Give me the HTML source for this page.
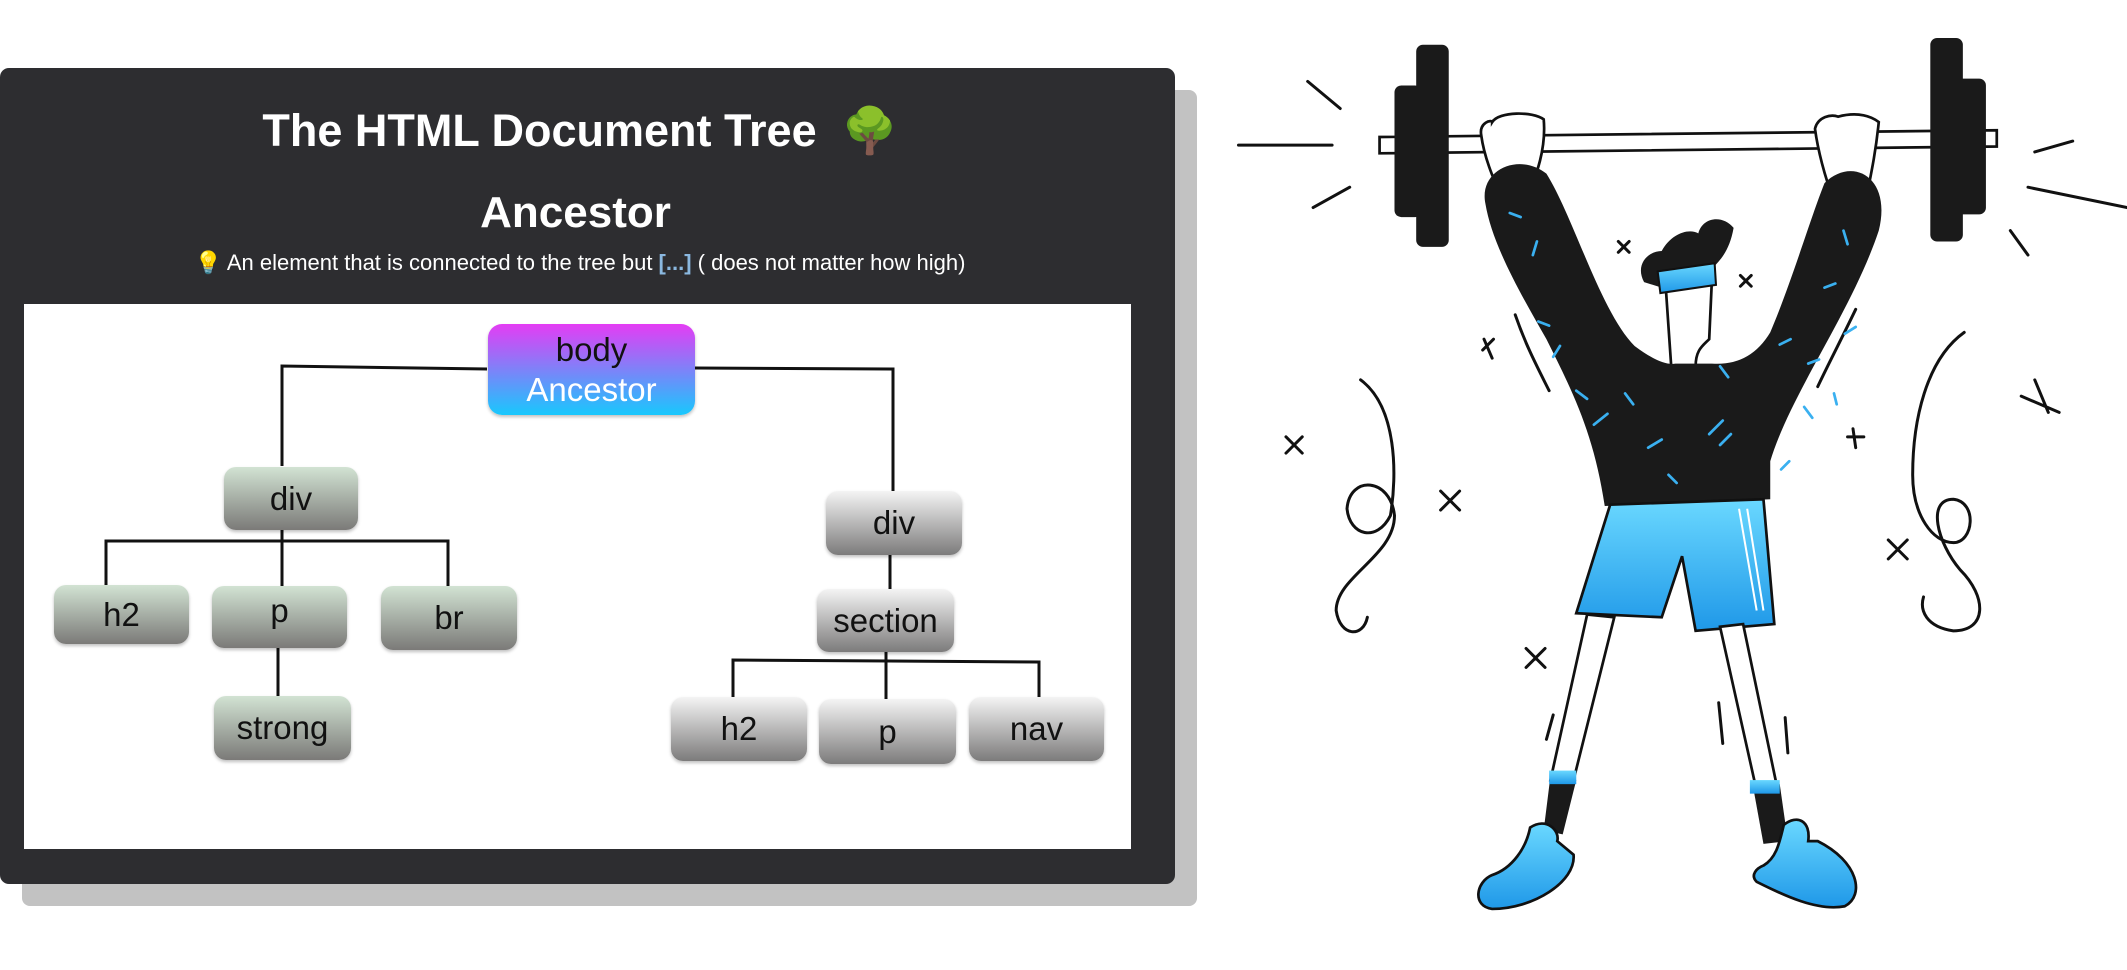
<!DOCTYPE html>
<html><head><meta charset="utf-8"><style>
html,body{margin:0;padding:0;background:#fff;width:2127px;height:970px;overflow:hidden;position:relative;font-family:"Liberation Sans",Arial,sans-serif}
.shadow{position:absolute;left:22px;top:90px;width:1175px;height:816px;background:#c2c2c2;border-radius:8px}
.panel{position:absolute;left:0;top:68px;width:1175px;height:816px;background:#2d2d30;border-radius:9px}
.t1{position:absolute;left:0;width:1160px;top:104px;text-align:center;color:#fff;font-weight:bold;font-size:45px}
.t2{position:absolute;left:0;width:1151px;top:188px;text-align:center;color:#fff;font-weight:bold;font-size:44px}
.t3{position:absolute;left:0;width:1160px;top:250px;text-align:center;color:#fff;font-size:22px}
.t3 b{color:#8ab8e0}
.white{position:absolute;left:24px;top:304px;width:1107px;height:545px;background:#fff}
.n{position:absolute;border-radius:12px;display:flex;align-items:center;justify-content:center;font-size:33px;color:#111;box-shadow:0 2px 3px rgba(0,0,0,.25)}
.g{background:linear-gradient(#d2e3d3,#7b7a78)}
.r{background:linear-gradient(#f4f4f4,#7c7b7b)}
.body{background:linear-gradient(#e43cf4,#18c8fd);flex-direction:column;line-height:40px;border-radius:14px}
</style></head><body>
<div class="shadow"></div>
<div class="panel"></div>
<div class="t1">The HTML Document Tree&nbsp; <span style="color:#3d8e20">🌳</span></div>
<div class="t2">Ancestor</div>
<div class="t3">💡 An element that is connected to the tree but <b>[...]</b> ( does not matter how high)</div>
<div class="white"></div>
<svg style="position:absolute;left:0;top:0" width="2127" height="970">
<g stroke="#111" stroke-width="3" fill="none">
<polyline points="487,369 282,366 282,466"/>
<polyline points="695,368 893,369 893,491"/>
<polyline points="106,585 106,541 448,541 448,586"/>
<line x1="282" y1="530" x2="282" y2="586"/>
<line x1="278" y1="648" x2="278" y2="696"/>
<line x1="890" y1="555" x2="890" y2="589"/>
<polyline points="733,697 733,660 1039,662 1039,697"/>
<line x1="886" y1="652" x2="886" y2="699"/>
</g></svg>
<div class="n body" style="left:488px;top:324px;width:207px;height:91px"><span>body</span><span style="color:#fff">Ancestor</span></div>
<div class="n g" style="left:224px;top:467px;width:134px;height:63px">div</div>
<div class="n g" style="left:54px;top:585px;width:135px;height:59px">h2</div>
<div class="n g" style="left:212px;top:586px;width:135px;height:62px;padding-bottom:12px;box-sizing:border-box">p</div>
<div class="n g" style="left:381px;top:586px;width:136px;height:64px">br</div>
<div class="n g" style="left:214px;top:696px;width:137px;height:64px">strong</div>
<div class="n r" style="left:826px;top:491px;width:136px;height:64px">div</div>
<div class="n r" style="left:817px;top:589px;width:137px;height:63px">section</div>
<div class="n r" style="left:671px;top:697px;width:136px;height:64px">h2</div>
<div class="n r" style="left:819px;top:699px;width:137px;height:65px">p</div>
<div class="n r" style="left:969px;top:697px;width:135px;height:64px">nav</div>

<svg style="position:absolute;left:0;top:0" width="2127" height="970" viewBox="0 0 1568 715" preserveAspectRatio="none">
<defs>
<linearGradient id="bl" x1="0" y1="0" x2="0" y2="1"><stop offset="0" stop-color="#6ad8ff"/><stop offset="1" stop-color="#1f98e8"/></linearGradient>
</defs>
<g stroke="#111" stroke-width="2.2" fill="none" stroke-linecap="round">
<line x1="964" y1="60" x2="988" y2="80"/><line x1="913" y1="107" x2="982" y2="107"/><line x1="968" y1="153" x2="995" y2="138"/>
<line x1="1500" y1="112" x2="1528" y2="104"/><line x1="1495" y1="138" x2="1568" y2="153"/><line x1="1482" y1="170" x2="1495" y2="188"/>
<path d="M948,322l12,12M960,322l-12,12M1062,362l14,14M1076,362l-14,14M1125,478l14,14M1139,478l-14,14M1392,398l14,14M1406,398l-14,14M1490,292l28,12M1500,280l10,24M1193,178l8,8M1201,178l-8,8M1283,203l8,8M1291,203l-8,8M1093,258l8,-8M1094,250l6,14M1362,322l12,0M1366,316l2,14"/>
<path d="M1003,280 C1030,300 1030,350 1025,380 C1015,400 995,395 993,375 C995,350 1025,352 1028,380 C1028,410 985,425 985,450 C988,470 1005,470 1008,455"/>
<path d="M1448,245 C1420,265 1410,310 1410,350 C1410,380 1425,400 1440,400 C1455,400 1458,370 1440,368 C1420,368 1428,400 1445,420 C1465,440 1465,465 1440,465 C1420,462 1415,450 1418,440"/>
<path d="M1117,232 C1125,255 1133,270 1142,288"/><path d="M1368,228 C1355,255 1348,268 1340,285"/>
<path d="M1140,545l5,-18M1150,548l6,-22M1270,548l-3,-30M1318,555l-2,-26"/>
</g>
<path d="M1017,101 L1472,96 L1472,108 L1017,113 Z" fill="#fff" stroke="#111" stroke-width="2"/>
<rect x="1028" y="63" width="20" height="97" rx="5" fill="#1a1a1a"/>
<rect x="1044" y="33" width="24" height="149" rx="5" fill="#1a1a1a"/>
<rect x="1423" y="28" width="24" height="150" rx="5" fill="#1a1a1a"/>
<rect x="1440" y="58" width="24" height="100" rx="5" fill="#1a1a1a"/>
<path d="M1092,100 C1090,90 1100,88 1100,90 C1105,82 1130,82 1138,88 C1140,110 1132,130 1128,140 L1108,148 C1100,130 1094,115 1092,100Z" fill="#fff" stroke="#111" stroke-width="2"/>
<path d="M1338,95 C1340,86 1350,84 1355,86 C1370,82 1380,86 1385,90 C1383,110 1380,125 1377,140 L1352,148 C1345,130 1340,110 1338,95Z" fill="#fff" stroke="#111" stroke-width="2"/>
<path d="M1228,212 L1262,206 L1260,250 C1255,255 1250,258 1250,270 L1232,270 Z" fill="#fff" stroke="#111" stroke-width="2"/>
<path d="M1212,208 C1205,195 1215,185 1225,185 C1232,172 1245,168 1252,172 C1255,160 1270,158 1278,168 C1275,185 1268,192 1262,198 L1225,212Z" fill="#1a1a1a"/>
<path d="M1222,200 L1264,194 L1265,210 L1224,216Z" fill="url(#bl)" stroke="#111" stroke-width="1.5"/>
<path d="M1095,150 C1090,125 1120,112 1140,128 C1160,160 1180,230 1205,255 Q1225,270 1235,268 L1262,268 Q1290,270 1305,245 C1320,210 1335,160 1345,135 C1365,115 1395,130 1385,170 C1365,230 1320,290 1305,340 L1305,368 L1183,373 C1175,320 1160,290 1140,250 C1120,215 1100,180 1095,150Z" fill="#1a1a1a"/>
<g stroke="#3ab0f0" stroke-width="2" stroke-linecap="round">
<path d="M1113,157l8,3M1133,178l-3,10M1134,237l8,3M1150,255l-5,8M1162,288l8,6M1175,313l10,-8M1198,290l6,8M1215,330l10,-6M1230,350l6,6M1260,320l10,-10M1268,328l8,-8M1224,372l4,5M1268,270l6,8M1312,254l8,-4M1330,300l6,8M1352,290l2,8M1333,268l8,-3M1313,346l6,-6M1359,170l3,10M1360,246l8,-5M1345,212l8,-3"/>
</g>
<path d="M1187,372 L1300,368 L1308,460 L1250,465 L1240,410 L1225,455 L1162,452 Z" fill="url(#bl)" stroke="#111" stroke-width="2"/>
<path d="M1282,375 L1295,450 M1288,375 L1300,450" stroke="#fff" stroke-width="1.5"/>
<path d="M1170,453 L1190,455 L1160,575 L1143,575 Z" fill="#fff" stroke="#111" stroke-width="2"/>
<path d="M1268,462 L1285,460 L1310,580 L1295,583 Z" fill="#fff" stroke="#111" stroke-width="2"/>
<path d="M1143,572 L1162,575 L1152,615 L1138,612Z" fill="#1a1a1a"/>
<path d="M1292,578 L1312,578 L1318,620 L1300,622Z" fill="#1a1a1a"/>
<rect x="1142" y="568" width="20" height="10" fill="url(#bl)"/><rect x="1290" y="575" width="22" height="10" fill="url(#bl)"/>
<path d="M1128,610 C1140,602 1150,612 1148,620 L1160,630 C1162,650 1130,670 1100,670 C1085,668 1088,650 1100,645 C1115,640 1125,625 1128,610Z" fill="url(#bl)" stroke="#111" stroke-width="2"/>
<path d="M1315,608 C1325,600 1335,605 1333,620 L1340,620 C1370,635 1375,660 1360,668 C1340,672 1315,660 1295,650 C1290,645 1295,640 1300,638 C1310,632 1312,620 1315,608Z" fill="url(#bl)" stroke="#111" stroke-width="2"/>
</svg>
</body></html>
